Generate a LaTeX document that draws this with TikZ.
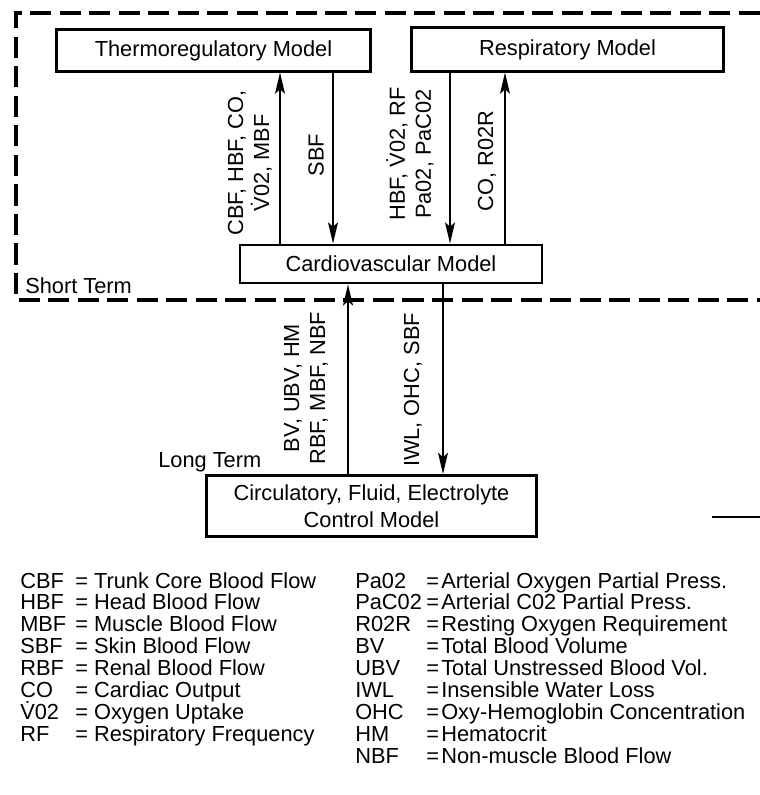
\documentclass[tikz,border=0pt]{standalone}
\usepackage{fontspec}
\setmainfont{Liberation Sans}
\usetikzlibrary{arrows.meta}

\newcommand{\Vdt}{\.{V}}

\begin{document}
\begin{tikzpicture}[x=0.025cm, y=-0.025cm,
    font=\fontsize{15.5}{17.5}\selectfont,
    model/.style={draw, line width=2pt, inner sep=0pt, align=center},
    flow/.style={line width=1.5pt, -{Stealth[length=15pt, width=7pt, inset=3pt]}},
    vlabel/.style={rotate=90, align=center, inner sep=0pt, font=\fontsize{15.5}{18.5}\selectfont},
    legend/.style={anchor=base west, inner sep=0pt}]

\useasboundingbox (0,0) rectangle (760,795);

% Short term frame (open to the right)
\draw[line width=2.2pt, dash pattern=on 15pt off 6pt] (760,13) -- (16,13) -- (16,300) -- (760,300);
\node[anchor=base west, inner sep=0pt] (short) at (25,293) {Short Term};

% Models
\node[model, minimum width=7.83cm, minimum height=1.03cm] (thermo) at (213.5,50.5) {Thermoregulatory Model};
\node[model, minimum width=7.78cm, minimum height=1.08cm] (resp) at (567.5,49.5) {Respiratory Model};
\node[model, minimum width=7.55cm, minimum height=0.95cm] (cardio) at (391,264) {Cardiovascular Model};
\node[model, minimum width=8.23cm, minimum height=1.53cm] (circ) at (371.5,506) {Circulatory, Fluid, Electrolyte\\[2pt] Control Model};

% Thermoregulatory <-> cardiovascular
\draw[flow] (280,0 |- cardio.north) -- (280,0 |- thermo.south);
\draw[flow] (333,0 |- thermo.south) -- (333,0 |- cardio.north);
\node[vlabel] (tup) at (250,163) {CBF, HBF, CO,\\ \Vdt02, MBF};
\node[vlabel] (tdown) at (316,155) {SBF};

% Respiratory <-> cardiovascular
\draw[flow] (450,0 |- resp.south) -- (450,0 |- cardio.north);
\draw[flow] (505,0 |- cardio.north) -- (505,0 |- resp.south);
\node[vlabel] (rdown) at (410,154) {HBF, \Vdt02, RF\\ Pa02, PaC02};
\node[vlabel] (rup) at (487,161) {CO, R02R};

% Long term loop
\draw[flow] (348,0 |- circ.north) -- (348,0 |- cardio.south);
\draw[flow] (443,0 |- cardio.south) -- (443,0 |- circ.north);
\node[vlabel] (lup) at (306,388) {BV, UBV, HM\\ RBF, MBF, NBF};
\node[vlabel] (ldown) at (413,390) {IWL, OHC, SBF};
\node[anchor=base west, inner sep=0pt] (long) at (158,467) {Long Term};

\draw[line width=0.8pt] (712,517) -- (760,517);

% Legend
\foreach \ab/\df [count=\i] in {CBF/Trunk Core Blood Flow, HBF/Head Blood Flow,
    MBF/Muscle Blood Flow, SBF/Skin Blood Flow, RBF/Renal Blood Flow,
    CO/Cardiac Output, {\Vdt02}/Oxygen Uptake, RF/Respiratory Frequency} {
  \node[legend] (la\i) at (20,{566.1+21.9*\i}) {\ab};
  \node[legend] (ld\i) at (75,{566.1+21.9*\i}) {= \df};
}
\foreach \ab/\df [count=\i] in {Pa02/Arterial Oxygen Partial Press.,
    PaC02/Arterial C02 Partial Press., R02R/Resting Oxygen Requirement,
    BV/Total Blood Volume, UBV/Total Unstressed Blood Vol.,
    IWL/Insensible Water Loss, OHC/Oxy-Hemoglobin Concentration,
    HM/Hematocrit, NBF/Non-muscle Blood Flow} {
  \node[legend] (ra\i) at (355,{566.1+21.9*\i}) {\ab};
  \node[legend] (re\i) at (426,{566.1+21.9*\i}) {=};
  \node[legend] (rd\i) at (441,{566.1+21.9*\i}) {\df};
}

\end{tikzpicture}
\end{document}
